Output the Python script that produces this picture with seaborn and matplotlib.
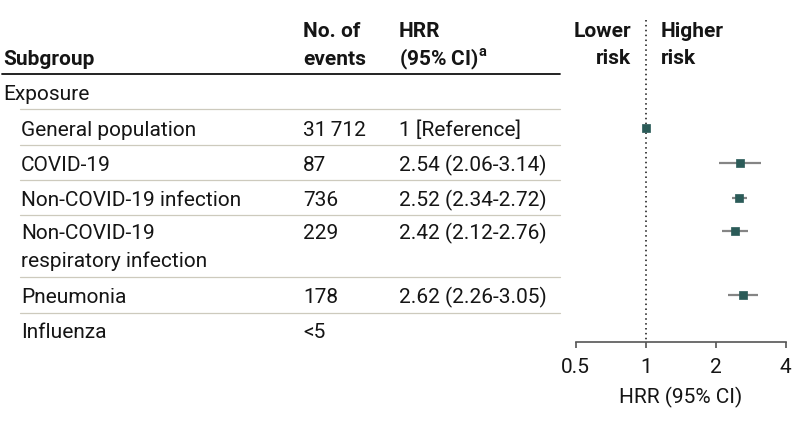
import matplotlib
matplotlib.use("Agg")
import matplotlib.pyplot as plt
from matplotlib.lines import Line2D
import seaborn as sns
import pandas as pd
import numpy as np

# ---------------- data ----------------
subgroups = ["General population", "COVID-19", "Non-COVID-19 infection",
             "Non-COVID-19\nrespiratory infection", "Pneumonia", "Influenza"]
n_events = ["31\u2009712", "87", "736", "229", "178", "<5"]
hrr_text = ["1 [Reference]", "2.54 (2.06-3.14)", "2.52 (2.34-2.72)",
            "2.42 (2.12-2.76)", "2.62 (2.26-3.05)", ""]
hrr = [1.0, 2.54, 2.52, 2.42, 2.62, np.nan]
ci_low = [np.nan, 2.06, 2.34, 2.12, 2.26, np.nan]
ci_high = [np.nan, 3.14, 2.72, 2.76, 3.05, np.nan]
x_ticks = [0.5, 1, 2, 4]
x_tick_labels = ["0.5", "1", "2", "4"]

# ---------------- layout (pixels, text baselines) ----------------
W, H = 794, 423
row_base = [136, 171, 206, 239, 303, 338]
sep_y = [109, 145, 180, 215, 277, 313]
axis_y = 342

sns.set_theme(style="white")
FONT = ["Roboto", "DejaVu Sans"]
plt.rcParams["font.family"] = FONT
plt.rcParams["mathtext.fontset"] = "custom"
plt.rcParams["mathtext.rm"] = "Roboto"
plt.rcParams["mathtext.bf"] = "Roboto:bold"
FS = 15
TXT = "#151515"

fig = plt.figure(figsize=(W / 100, H / 100), dpi=100)

def fx(x):
    return x / W

def fy(y):
    return 1 - y / H

def ftext(x, y, s, **kw):
    kw.setdefault("fontsize", FS)
    kw.setdefault("color", TXT)
    kw.setdefault("va", "baseline")
    fig.text(fx(x), fy(y), s, **kw)

# headers
ftext(3, 65, "Subgroup", fontweight="bold")
ftext(303, 37, "No. of", fontweight="bold")
ftext(303, 65, "events", fontweight="bold")
ftext(399, 37, "HRR", fontweight="bold")
ftext(399, 65, r"(95% CI)$^{\mathbf{a}}$", fontweight="bold")
fig.add_artist(Line2D([fx(2), fx(560)], [fy(74), fy(74)], color="#111111", lw=1.3,
                      transform=fig.transFigure))

ftext(3, 100, "Exposure")
for i, (name, n, t) in enumerate(zip(subgroups, n_events, hrr_text)):
    lines = name.split("\n")
    for k, ln in enumerate(lines):
        ftext(21, row_base[i] + 28 * k, ln)
    ftext(303, row_base[i], n)
    if t:
        ftext(399, row_base[i], t)

for y in sep_y:
    fig.add_artist(Line2D([fx(20), fx(560)], [fy(y), fy(y)], color="#cdcabd", lw=0.9,
                          transform=fig.transFigure))

# risk labels
ftext(631, 37, "Lower", fontweight="bold", ha="right")
ftext(631, 64, "risk", fontweight="bold", ha="right")
ftext(661, 37, "Higher", fontweight="bold", ha="left")
ftext(661, 64, "risk", fontweight="bold", ha="left")

# ---------------- forest axes ----------------
x0, x1 = 575.7, 785.7
ax = fig.add_axes([fx(x0), fy(axis_y), (x1 - x0) / W, axis_y / H])
ax.set_facecolor("none")
ax.set_xscale("log", base=2)
ax.set_xlim(0.5, 4)
ax.set_ylim(axis_y, 0)

marker_y = [b - 8.5 for b in row_base]
df = pd.DataFrame({"hrr": hrr, "lo": ci_low, "hi": ci_high, "y": marker_y})
ax.plot([1, 1], [20, axis_y], color="#111111", lw=1.1, ls=(0, (1, 2.2)), zorder=1)
ci = df.dropna(subset=["lo", "hi"])
ax.hlines(ci["y"], ci["lo"], ci["hi"], color="#858585", lw=1.6, zorder=2)
sns.scatterplot(data=df.dropna(subset=["hrr"]), x="hrr", y="y", marker="s", s=38,
                color="#2b5b58", edgecolor="#2b5b58", linewidth=0.5, ax=ax, zorder=3,
                legend=False)

for s in ["top", "right", "left"]:
    ax.spines[s].set_visible(False)
ax.spines["bottom"].set_color("#555555")
ax.spines["bottom"].set_linewidth(1.2)
ax.set_xticks(x_ticks)
ax.set_xticklabels(x_tick_labels)
ax.xaxis.set_minor_locator(matplotlib.ticker.NullLocator())
ax.tick_params(axis="x", direction="out", length=4.5, width=1.2, color="#555555",
               labelsize=FS, labelcolor=TXT, pad=7, bottom=True)
ax.set_yticks([])
ax.set_ylabel("")
ax.set_xlabel("HRR (95% CI)", fontsize=FS, color=TXT, labelpad=7)

fig.savefig("out.png", dpi=100)
